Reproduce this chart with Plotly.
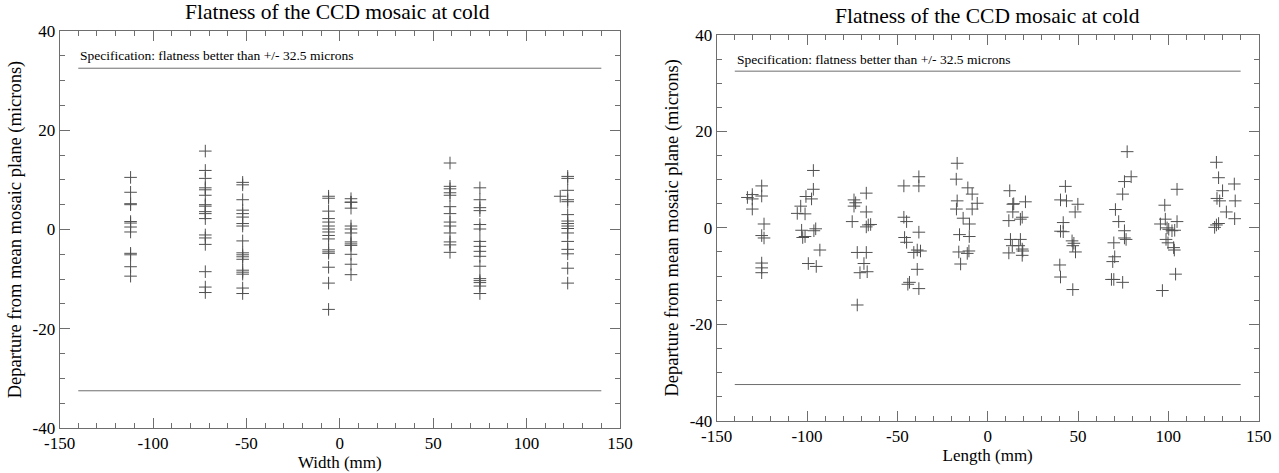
import plotly.graph_objects as go

# ---- data ----------------------------------------------------------------
# left panel: positions across the width of the mosaic (mm) and departures (microns)
width_cols = [-112, -72, -52, -6, 6, 59, 75, 122]
width_dev = [
    [10.5, 7.5, 5.2, 5.0, 1.6, 1.3, 0.5, -0.5, -4.8, -5.1, -7.5, -9.4],
    [15.8, 11.9, 10.3, 8.4, 8.0, 6.9, 5.0, 4.7, 3.6, 3.2, 2.2, -1.1, -1.7, -3.0, -8.5, -11.6, -12.7],
    [9.5, 9.0, 6.0, 3.9, 3.2, 2.5, 1.2, 0.7, -2.3, -4.7, -5.1, -5.5, -6.0, -8.2, -8.6, -9.0, -11.8, -12.9],
    [6.7, 6.3, 3.7, 2.2, 1.5, 0.7, 0.1, -0.5, -1.2, -1.9, -4.1, -4.5, -4.8, -7.6, -10.8, -16.1],
    [6.2, 5.5, 5.5, 4.3, 0.7, 0.1, -0.7, -2.5, -2.9, -3.2, -5.0, -7.0, -9.1],
    [13.4, 8.7, 8.2, 7.4, 6.9, 4.6, 3.2, 1.5, 0.7, -0.7, -2.5, -3.1, -4.6],
    [8.4, 6.0, 4.4, 3.8, 1.0, 0.1, -2.4, -3.4, -4.4, -5.4, -7.4, -9.9, -10.3, -10.7, -11.4, -12.9],
    [10.7, 10.3, 7.9, 6.0, 5.6, 3.0, 1.7, 1.2, 0.7, 0.2, -0.7, -2.4, -4.0, -4.9, -7.8, -10.8],
]
width_extra_x = [118]
width_extra_y = [6.7]

# right panel: positions along the length (mm) and departures (microns)
length_mm = [
    -133, -130.3, -130.3, -130.3, -125.1, -125.1, -123.8, -125.1, -123.8, -125.1, -125.1, -125.1,
    -96.5, -96.5, -97.5, -100.6, -103.5, -105.4, -101.1, -103.0, -102.4, -101.1, -95.2, -96.2, -92.9, -99.3, -94.9,
    -74.0, -73.1, -74.0, -75.0, -67.2, -67.2, -67.2, -66.1, -64.8, -72.2, -67.2, -68.5, -70.7, -66.7, -72.2,
    -46.4, -38.1, -38.1, -46.4, -44.9, -46.0, -44.9, -38.1, -40.9, -39.0, -37.2, -43.3, -44.2, -39.0, -38.1,
    -16.9, -17.4, -16.9, -17.3, -13.6, -15.6, -16.0, -15.0, -11.0, -8.6, -5.8, -8.6, -10.1, -10.2, -11.3, -10.4,
    12.2, 14.4, 13.9, 13.9, 20.9, 11.7, 19.1, 18.1, 12.6, 18.1, 13.6, 17.2, 11.7, 19.1, 19.1, 19.4,
    43.0, 40.3, 43.6, 49.9, 48.4, 41.8, 40.3, 41.8, 46.7, 47.7, 47.1, 48.6, 39.9, 40.3, 47.1,
    77.2, 79.4, 75.7, 74.7, 70.7, 72.5, 75.7, 75.7, 76.6, 69.8, 70.3, 69.2, 68.5, 69.8, 74.7,
    98.0, 104.8, 95.6, 98.3, 99.3, 104.8, 103.5, 102.0, 100.2, 98.7, 99.8, 102.9, 103.3, 104.0, 96.7,
    126.6, 127.8, 130.0, 136.5, 126.9, 128.4, 137.0, 132.1, 136.7, 127.8, 126.6, 125.6,
]
length_dev = [
    6.3, 6.9, 6.0, 3.9, 8.7, 6.6, 0.8, -1.6, -2.1, -7.3, -8.3, -9.3,
    11.9, 8.0, 6.0, 6.5, 4.5, 3.0, 2.9, -0.5, -2.0, -1.8, -0.2, -0.6, -4.6, -7.4, -8.0,
    5.8, 5.2, 4.5, 1.3, 7.2, 3.3, 0.2, 0.6, 0.7, -5.1, -5.1, -7.4, -9.3, -9.1, -16.0,
    8.7, 10.6, 8.7, 2.2, 1.3, -2.0, -3.0, -0.9, -5.1, -4.6, -4.8, -11.3, -11.7, -8.6, -12.6,
    13.4, 10.1, 5.6, 3.9, 2.0, -1.4, -5.0, -7.5, 8.3, 7.0, 5.1, 3.9, 0.8, -1.8, -5.3, -4.8,
    7.7, 5.0, 4.9, 3.3, 5.4, 1.5, 2.2, 1.8, -2.4, -2.4, -3.7, -3.7, -5.2, -4.4, -5.7, -4.8,
    8.6, 5.8, 5.6, 4.9, 3.3, 1.1, -0.7, -0.8, -2.7, -3.2, -3.7, -5.0, -7.7, -10.2, -12.8,
    15.8, 10.6, 9.6, 7.0, 3.8, 1.3, -0.6, -2.1, -2.4, -3.1, -6.0, -7.0, -10.7, -10.7, -11.3,
    4.7, 8.0, 0.8, 1.8, 0.0, 1.3, -0.5, -0.6, -0.3, -2.4, -3.1, -4.1, -4.6, -9.6, -13.0,
    13.6, 10.4, 7.7, 9.1, 6.1, 5.6, 5.6, 3.3, 1.9, 0.9, 0.6, 0.1,
]

spec_x = [-140, 140]
spec_level = 32.5
x_ticks = [-150, -100, -50, 0, 50, 100, 150]
x_ticktext = ['-150', '-100', '-50', '0', '50', '100', '150']
y_ticks = [-40, -20, 0, 20, 40]
y_ticktext = ['-40', '-20', '0', '20', '40']

title_text = 'Flatness of the CCD mosaic at cold'
spec_text = 'Specification: flatness better than +/- 32.5 microns'
ytitle = 'Departure from mean mosaic plane (microns)'

FONT = "'Liberation Serif', 'DejaVu Serif', serif"
AXC = '#6e6e6e'
MARK = '#505050'

# ---- build the figure -----------------------------------------------------
width_x = []
width_y = []
for xc, ys in zip(width_cols, width_dev):
    width_x += [xc] * len(ys)
    width_y += ys
width_x += width_extra_x
width_y += width_extra_y

marker = dict(symbol='cross-thin', size=9, line=dict(width=1, color=MARK), color=MARK)

fig = go.Figure()
fig.add_trace(go.Scatter(x=width_x, y=width_y, mode='markers', marker=marker,
                         xaxis='x', yaxis='y', hoverinfo='x+y'))
fig.add_trace(go.Scatter(x=length_mm, y=length_dev, mode='markers', marker=marker,
                         xaxis='x2', yaxis='y2', hoverinfo='x+y'))

# spec lines (+/- 32.5 microns) on both panels
for xa, ya in [('x', 'y'), ('x2', 'y2')]:
    for s in [1, -1]:
        fig.add_trace(go.Scatter(x=spec_x, y=[s * spec_level] * 2, mode='lines',
                                 line=dict(color=AXC, width=1),
                                 xaxis=xa, yaxis=ya, hoverinfo='skip'))


def xaxis_style(domain, title, standoff):
    return dict(
        domain=domain, range=[-150, 150], automargin=False,
        tickvals=x_ticks, ticktext=x_ticktext,
        ticks='inside', ticklen=10, tickcolor=AXC, tickwidth=1,
        minor=dict(dtick=10, ticks='inside', ticklen=5, tickcolor=AXC),
        showline=True, linecolor=AXC, linewidth=1, mirror='ticks',
        showgrid=False, zeroline=False,
        tickfont=dict(family=FONT, size=17, color='black'),
        title=dict(text=title, font=dict(family=FONT, size=17, color='black'),
                   standoff=standoff),
    )


def yaxis_style(domain, anchor, standoff):
    return dict(
        domain=domain, range=[-40, 40], anchor=anchor, automargin=False,
        tickvals=y_ticks, ticktext=y_ticktext,
        ticks='inside', ticklen=10, tickcolor=AXC, tickwidth=1,
        minor=dict(dtick=5, ticks='inside', ticklen=5, tickcolor=AXC),
        showline=True, linecolor=AXC, linewidth=1, mirror='ticks',
        showgrid=False, zeroline=False,
        tickfont=dict(family=FONT, size=17, color='black'),
        title=dict(text=ytitle, font=dict(family=FONT, size=18.5, color='black'),
                   standoff=standoff),
    )


W, H = 1279, 473


def px(xp):
    return xp / W


def py(yp):
    return 1 - yp / H


left_x = [px(59.6), px(620)]
left_y = [py(428), py(31)]
right_x = [px(716.7), px(1258.7)]
right_y = [py(420.7), py(35)]

fig.update_layout(
    width=W, height=H,
    margin=dict(l=0, r=0, t=0, b=0),
    paper_bgcolor='white', plot_bgcolor='white',
    showlegend=False,
    font=dict(family=FONT, color='black'),
    xaxis=dict(xaxis_style(left_x, 'Width (mm)', 0), anchor='y'),
    yaxis=yaxis_style(left_y, 'x', 6),
    xaxis2=dict(xaxis_style(right_x, 'Length (mm)', 0), anchor='y2'),
    yaxis2=yaxis_style(right_y, 'x2', 6),
)

annotations = [
    dict(text=title_text, xref='paper', yref='paper', x=px(338), y=py(12),
         xanchor='center', yanchor='middle', showarrow=False,
         font=dict(family=FONT, size=21.5, color='black')),
    dict(text=title_text, xref='paper', yref='paper', x=px(987), y=py(16),
         xanchor='center', yanchor='middle', showarrow=False,
         font=dict(family=FONT, size=21.5, color='black')),
    dict(text=spec_text, xref='x', yref='y', x=-140, y=35, xanchor='left',
         yanchor='middle', showarrow=False, font=dict(family=FONT, size=13.5, color='black')),
    dict(text=spec_text, xref='x2', yref='y2', x=-140, y=35, xanchor='left',
         yanchor='middle', showarrow=False, font=dict(family=FONT, size=13.5, color='black')),
]
fig.update_layout(annotations=annotations)

# drop the default 8px body margin so the figure sits at the page corner
fig.write_html("out.html", config={'displayModeBar': False},
               post_script="document.body.style.margin='0';")
